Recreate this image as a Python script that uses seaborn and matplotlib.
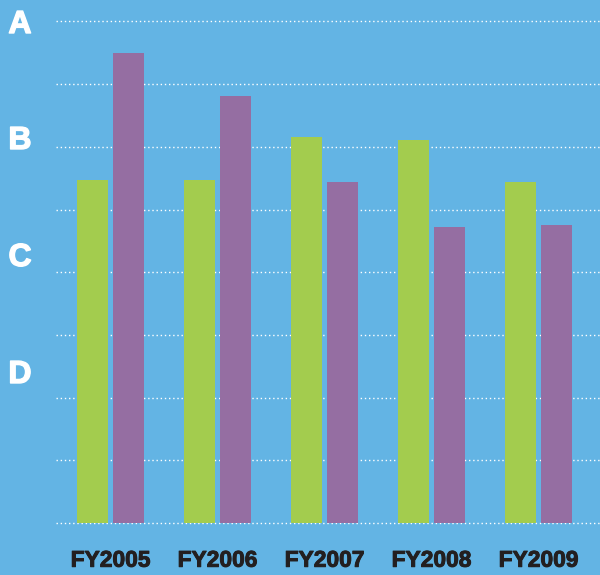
import matplotlib
matplotlib.use("Agg")
import matplotlib.pyplot as plt
import matplotlib.patheffects as pe
import seaborn as sns
import pandas as pd

years = ["FY2005", "FY2006", "FY2007", "FY2008", "FY2009"]
series_a = [5.47, 5.47, 6.16, 6.11, 5.44]   # green
series_b = [7.50, 6.81, 5.44, 4.72, 4.75]   # purple
grade_labels = ["A", "B", "C", "D"]

BG = "#63b4e4"
GREEN = "#a3cc4e"
PURPLE = "#956ea2"
DARK = "#231f20"

df = pd.DataFrame({
    "year": years * 2,
    "value": series_a + series_b,
    "series": ["a"] * len(years) + ["b"] * len(years),
})

W, H = 600, 575
fig = plt.figure(figsize=(W / 100, H / 100), dpi=100)
fig.patch.set_facecolor(BG)

unit = 62.7
base_px = 523
bottom_px = 529.3
left_px, right_px = 56, 600
ax = fig.add_axes([left_px / W, 1 - bottom_px / H, (right_px - left_px) / W, bottom_px / H])
ax.set_facecolor(BG)

sns.barplot(data=df, x="year", y="value", hue="series",
            palette=[GREEN, PURPLE], width=0.673, gap=0.14,
            saturation=1, legend=False, ax=ax, zorder=3)

cat_w = 107
x0 = (left_px - 110.5) / cat_w
x1 = (right_px - 110.5) / cat_w
ax.set_xlim(x0, x1)
ax.set_ylim(-(bottom_px - base_px) / unit, base_px / unit)

for v in range(0, 9):
    ax.axhline(v, color="white", lw=1.0, ls=(0, (1, 2)), zorder=1)

for s in ax.spines.values():
    s.set_visible(False)
ax.set_yticks([])
ax.set_xlabel("")
ax.set_ylabel("")
ax.tick_params(axis="x", length=0, pad=14)
ax.set_xticks(range(len(years)))
ax.set_xticklabels(years, fontsize=16.4, fontweight="bold", color=DARK,
                   family="Liberation Sans")
for t in ax.get_xticklabels():
    t.set_path_effects([pe.withStroke(linewidth=0.7, foreground=DARK)])

baselines = [33, 149, 266, 383]
for lab, yb in zip(grade_labels, baselines):
    fig.text(20 / W, 1 - yb / H, lab, ha="center", va="baseline",
             fontsize=23, fontweight="bold", color="white",
             family="Liberation Sans",
             path_effects=[pe.withStroke(linewidth=1.0, foreground="white")])

fig.savefig("out.png", dpi=100, facecolor=BG)
